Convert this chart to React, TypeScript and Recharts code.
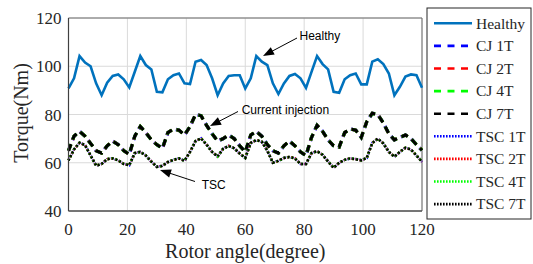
import React from 'react';
import { LineChart, Line, XAxis, YAxis, CartesianGrid, ReferenceArea } from 'recharts';

const ANGLES = [0, 1.875, 3.75, 5.625, 7.5, 9.375, 11.25, 13.125, 15, 16.875, 18.75, 20.625, 22.5, 24.375, 26.25, 28.125, 30, 31.875, 33.75, 35.625, 37.5, 39.375, 41.25, 43.125, 45, 46.875, 48.75, 50.625, 52.5, 54.375, 56.25, 58.125, 60, 61.875, 63.75, 65.625, 67.5, 69.375, 71.25, 73.125, 75, 76.875, 78.75, 80.625, 82.5, 84.375, 86.25, 88.125, 90, 91.875, 93.75, 95.625, 97.5, 99.375, 101.25, 103.125, 105, 106.875, 108.75, 110.625, 112.5, 114.375, 116.25, 118.125, 120];

const HEALTHY = [90.8, 95, 104.2, 101.5, 100, 92.9, 88, 93.2, 96, 96.6, 94.6, 91.2, 97.7, 104.2, 100.5, 98.7, 89.4, 89.2, 94.6, 96.3, 97, 92.9, 92.6, 101.9, 102.6, 100.5, 95, 88, 92.9, 96, 96.3, 96.3, 90.8, 95, 104.2, 101.9, 100.5, 92.9, 88.5, 92.9, 96, 96.8, 95, 91, 97.7, 104.2, 100.9, 98.7, 89.4, 89, 94.6, 96.3, 97, 92.5, 92.5, 101.9, 102.9, 100.9, 97, 88, 91.5, 95.7, 96.6, 96.3, 91.1];

const CJ = [65, 71, 73, 71, 68, 65, 64, 67, 69, 67.5, 65, 63.5, 71, 75, 72.5, 69.5, 67.5, 66, 72.5, 74, 73.5, 71.5, 75, 80, 79.5, 75.5, 72, 69, 70, 71.5, 70, 67, 64.5, 71.5, 73, 71, 67.5, 65, 64, 67, 69, 67, 64.5, 63, 70.5, 75.5, 73, 69.5, 67, 66.5, 72.5, 74, 73.5, 70.5, 77, 80.5, 80, 76.5, 72, 69.5, 70.5, 71.5, 70, 67.5, 65.2];

const TSC = [61, 65.5, 68.3, 67.3, 63, 58.8, 59.5, 61.5, 61.8, 61, 59.5, 59, 64, 64.5, 63, 60.5, 58.3, 58.7, 60.3, 61.2, 61.8, 60.8, 64.5, 69, 70.1, 67.5, 64.5, 62.6, 65.8, 67, 66, 63.8, 62, 68.2, 69.4, 68.7, 65, 60, 60.8, 62, 62.4, 61.8, 59.5, 59.5, 64, 64.8, 63.3, 60.5, 57.9, 60, 61.2, 61.8, 61.5, 61, 62, 68.2, 70, 68, 64.5, 62.5, 64.5, 66.2, 65.5, 63, 60.4];

const X_TICKS = [0, 20, 40, 60, 80, 100, 120];
const Y_TICKS = [40, 60, 80, 100, 120];

type S = { key: string; name: string; color: string; dash?: string; width: number; offset?: number; values: number[] };

const SERIES: S[] = [
  { key: 'healthy', name: 'Healthy', color: '#0072BD', width: 2.6, values: HEALTHY },
  { key: 'cj1', name: 'CJ 1T', color: '#0000FF', dash: '7 5', width: 3.4, offset: 0.8, values: CJ },
  { key: 'cj2', name: 'CJ 2T', color: '#FF0000', dash: '7 5', width: 3.2, offset: 0.4, values: CJ },
  { key: 'cj4', name: 'CJ 4T', color: '#00FF00', dash: '7 5', width: 3.2, offset: 0.2, values: CJ },
  { key: 'cj7', name: 'CJ 7T', color: '#000000', dash: '7 5', width: 3, offset: 0, values: CJ },
  { key: 'tsc1', name: 'TSC 1T', color: '#0000FF', dash: '2 2', width: 2.6, offset: 1, values: TSC },
  { key: 'tsc2', name: 'TSC 2T', color: '#FF0000', dash: '2 2', width: 2.6, offset: 0.7, values: TSC },
  { key: 'tsc4', name: 'TSC 4T', color: '#00FF00', dash: '2 2', width: 2.6, offset: 0.35, values: TSC },
  { key: 'tsc7', name: 'TSC 7T', color: '#000000', dash: '2 2', width: 2.5, offset: 0, values: TSC },
];

const DATA = ANGLES.map((a, i) => {
  const row: Record<string, number> = { angle: a };
  SERIES.forEach((s) => {
    row[s.key] = s.values[i];
  });
  return row;
});

const SERIF = 'Liberation Serif, DejaVu Serif, serif';
const SANS = 'Liberation Sans, Arial, sans-serif';

function Arrow({ x1, y1, x2, y2 }: { x1: number; y1: number; x2: number; y2: number }) {
  const dx = x2 - x1;
  const dy = y2 - y1;
  const len = Math.sqrt(dx * dx + dy * dy);
  const ux = dx / len;
  const uy = dy / len;
  const hl = 11;
  const hw = 4.2;
  const bx = x2 - ux * hl;
  const by = y2 - uy * hl;
  const p1 = `${x2},${y2}`;
  const p2 = `${bx - uy * hw},${by + ux * hw}`;
  const p3 = `${bx + uy * hw},${by - ux * hw}`;
  return (
    <g>
      <line x1={x1} y1={y1} x2={bx + ux * 2} y2={by + uy * 2} stroke="#000" strokeWidth={1} />
      <polygon points={`${p1} ${p2} ${p3}`} fill="#000" />
    </g>
  );
}

export default function App() {
  const legendTop = 23.3;
  const legendStep = 22.6;
  const tickStyle = { fontFamily: SERIF, fontSize: 17, fill: '#262626', style: { fontFamily: SERIF } };
  return (
    <div style={{ position: 'absolute', left: 0, top: 0, width: 533, height: 264, background: '#fff', fontFamily: SERIF }}>
      <LineChart
        width={533}
        height={264}
        data={DATA}
        margin={{ top: 18, right: 111, bottom: 0, left: 0.5 }}
        style={{ fontFamily: SERIF }}
      >
        <CartesianGrid stroke="#dadada" strokeWidth={1} />
        <XAxis
          dataKey="angle"
          type="number"
          domain={[0, 120]}
          ticks={X_TICKS}
          height={53}
          tickLine={false}
          tickSize={6}
          tickMargin={6}
          axisLine={{ stroke: '#404040', strokeWidth: 1.2 }}
          tick={tickStyle}
          interval={0}
        />
        <YAxis
          type="number"
          domain={[40, 120]}
          ticks={Y_TICKS}
          width={68}
          tickLine={false}
          tickSize={6}
          tickMargin={1}
          axisLine={{ stroke: '#404040', strokeWidth: 1.2 }}
          tick={tickStyle}
          interval={0}
        />
        <ReferenceArea x1={0} x2={120} y1={40} y2={120} fill="none" stroke="#6a6a6a" strokeWidth={1} ifOverflow="visible" />
        {SERIES.map((s) => (
          <Line
            key={s.key}
            dataKey={s.key}
            name={s.name}
            type="linear"
            stroke={s.color}
            strokeWidth={s.width}
            strokeDasharray={s.dash}
            strokeDashoffset={s.offset}
            dot={false}
            activeDot={false}
            isAnimationActive={false}
          />
        ))}
      </LineChart>
      <svg
        width={533}
        height={264}
        style={{ position: 'absolute', left: 0, top: 0, pointerEvents: 'none' }}
      >
        <text
          x={21}
          y={113}
          transform="rotate(-90 21 113)"
          textAnchor="middle"
          dominantBaseline="central"
          style={{ fontFamily: SERIF, fontSize: 20 }}
          fill="#262626"
        >
          Torque(Nm)
        </text>
        <text x={245.3} y={258} textAnchor="middle" style={{ fontFamily: SERIF, fontSize: 20 }} fill="#262626">
          Rotor angle(degree)
        </text>

        <text x={299.5} y={40} style={{ fontFamily: SANS, fontSize: 12 }} fill="#000">Healthy</text>
        <Arrow x1={297} y1={38} x2={263} y2={56} />
        <text x={241.7} y={113.5} style={{ fontFamily: SANS, fontSize: 12 }} fill="#000">Current injection</text>
        <Arrow x1={238} y1={111.5} x2={210} y2={126} />
        <text x={201.7} y={188.5} style={{ fontFamily: SANS, fontSize: 12 }} fill="#000">TSC</text>
        <Arrow x1={195} y1={181.5} x2={160} y2={170} />

        <rect x={427} y={8} width={104} height={211} fill="#fff" stroke="#262626" strokeWidth={1} />
        {SERIES.map((s, i) => {
          const y = legendTop + i * legendStep;
          return (
            <g key={s.key}>
              <line
                x1={434}
                y1={y}
                x2={472}
                y2={y}
                stroke={s.color}
                strokeWidth={2.6}
                strokeDasharray={s.dash === '7 5' ? '7 6.5' : s.dash === '2 2' ? '1.6 1.4' : undefined}
              />
              <text x={476} y={y + 5.2} style={{ fontFamily: SERIF, fontSize: 15.5 }} fill="#262626">
                {s.name}
              </text>
            </g>
          );
        })}
      </svg>
    </div>
  );
}
